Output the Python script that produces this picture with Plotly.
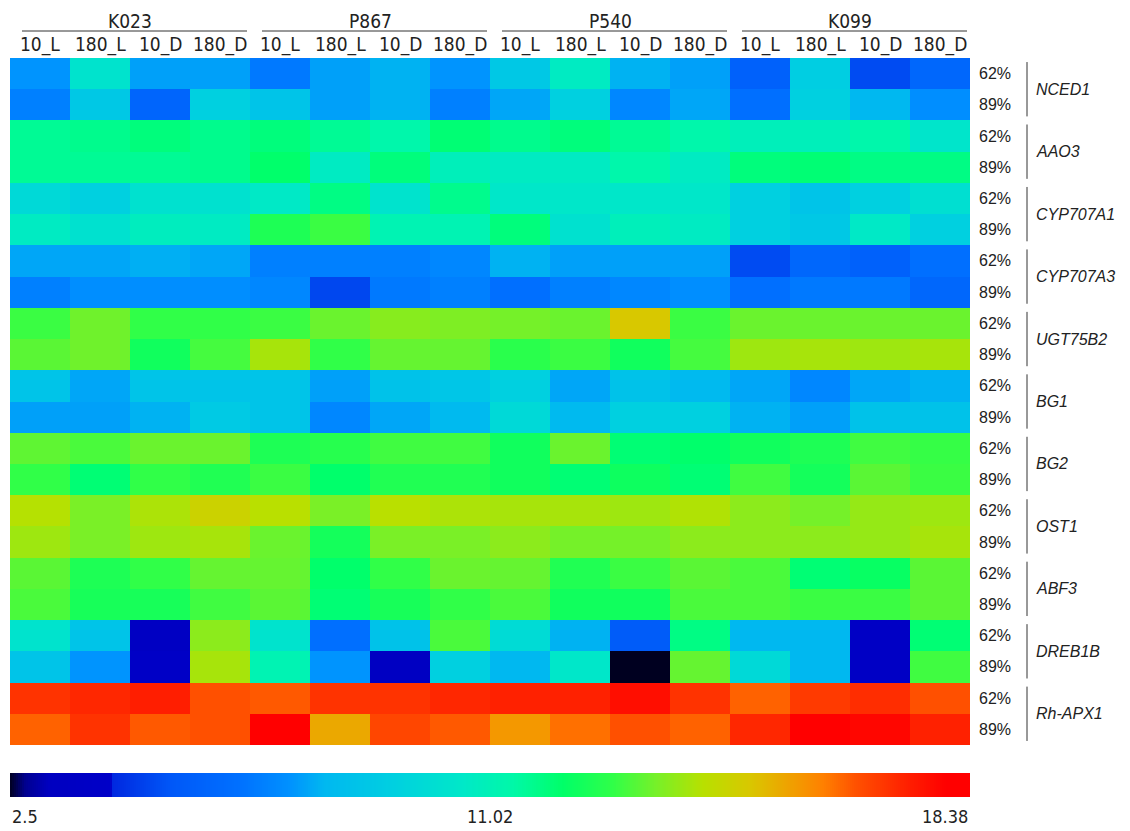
import numpy as np
import plotly.graph_objects as go

# ---- data -------------------------------------------------------------
groups = ["K023", "P867", "P540", "K099"]
conditions = ["10_L", "180_L", "10_D", "180_D"]
genes = ["NCED1", "AAO3", "CYP707A1", "CYP707A3", "UGT75B2", "BG1",
         "BG2", "OST1", "ABF3", "DREB1B", "Rh-APX1"]
humidity = ["62%", "89%"]

# expression level per column (group x condition), one list per gene / humidity
nced1_62 = [7.5, 10.3, 7.7, 7.7, 6.8, 7.7, 8.0, 7.5, 8.9, 10.7, 8.0, 7.7, 5.8, 9.2, 5.1, 6.1]
nced1_89 = [7.0, 8.9, 6.0, 9.3, 8.7, 7.7, 8.0, 7.0, 7.8, 9.3, 7.2, 7.8, 6.5, 9.3, 8.1, 7.4]
aao3_62 = [11.6, 11.7, 11.9, 11.7, 11.9, 11.6, 11.3, 12.0, 11.7, 11.9, 11.6, 11.3, 10.9, 10.9, 11.3, 10.4]
aao3_89 = [11.6, 11.6, 11.6, 11.7, 12.1, 10.7, 11.9, 10.9, 10.7, 10.7, 11.3, 10.7, 11.9, 12.0, 11.8, 11.8]
cyp707a1_62 = [9.8, 9.3, 10.2, 10.2, 10.6, 11.8, 10.3, 11.7, 10.5, 10.5, 10.5, 10.5, 9.3, 8.7, 9.3, 10.1]
cyp707a1_89 = [10.7, 10.2, 10.8, 10.7, 12.6, 13.0, 11.1, 11.1, 11.9, 10.2, 10.9, 10.7, 9.3, 8.9, 10.6, 9.3]
cyp707a3_62 = [7.8, 7.8, 7.95, 7.8, 7.0, 7.0, 7.0, 7.2, 8.0, 7.7, 7.7, 7.7, 5.1, 6.1, 5.8, 6.5]
cyp707a3_89 = [7.0, 7.4, 7.4, 7.4, 7.2, 5.0, 6.8, 7.0, 6.5, 7.0, 7.2, 7.4, 6.5, 6.8, 6.8, 6.1]
ugt75b2_62 = [13.0, 13.5, 12.9, 12.9, 13.0, 13.45, 13.75, 13.65, 13.55, 13.45, 15.0, 13.0, 13.45, 13.45, 13.45, 13.45]
ugt75b2_89 = [13.3, 13.5, 12.4, 13.1, 14.1, 12.9, 13.4, 13.4, 12.8, 13.0, 12.4, 13.1, 14.0, 14.1, 14.0, 14.1]
bg1_62 = [8.7, 7.8, 8.7, 8.7, 8.7, 7.7, 8.6, 8.8, 9.3, 7.8, 8.6, 8.2, 7.8, 7.2, 7.8, 8.0]
bg1_89 = [7.7, 7.7, 8.0, 9.0, 8.7, 7.2, 7.8, 8.2, 9.8, 8.2, 9.3, 9.3, 8.0, 7.7, 8.6, 8.6]
bg2_62 = [13.35, 13.15, 13.45, 13.45, 12.6, 12.75, 13.05, 13.05, 12.4, 13.45, 12.0, 12.1, 12.4, 12.6, 13.05, 12.95]
bg2_89 = [12.9, 12.0, 12.9, 12.65, 13.0, 12.1, 12.65, 12.65, 12.4, 12.0, 12.35, 12.0, 13.05, 12.45, 13.3, 13.0]
ost1_62 = [14.25, 13.6, 14.15, 14.7, 14.3, 13.6, 14.3, 14.15, 14.1, 14.1, 14.0, 14.2, 13.8, 13.55, 13.9, 14.0]
ost1_89 = [14.0, 13.6, 14.0, 14.1, 13.45, 12.45, 13.6, 13.6, 13.8, 13.55, 13.55, 13.8, 13.8, 13.8, 13.9, 14.1]
abf3_62 = [13.3, 12.6, 12.9, 13.4, 13.4, 12.1, 12.9, 13.45, 13.4, 12.65, 13.0, 13.3, 13.15, 12.0, 12.25, 13.3]
abf3_89 = [13.15, 12.5, 12.5, 13.05, 13.3, 12.0, 12.5, 12.9, 13.15, 12.4, 12.4, 13.15, 13.15, 13.0, 13.0, 13.3]
dreb1b_62 = [10.3, 8.7, 3.6, 13.8, 10.3, 6.5, 8.6, 13.15, 9.9, 8.0, 5.6, 11.8, 8.1, 8.1, 3.9, 12.0]
dreb1b_89 = [8.7, 7.5, 4.0, 14.1, 11.1, 7.5, 3.5, 9.3, 8.1, 10.5, 2.5, 13.4, 9.8, 8.1, 3.9, 13.05]
apx1_62 = [17.1, 17.3, 17.45, 16.65, 16.55, 17.1, 17.1, 17.3, 17.4, 17.4, 17.75, 17.1, 16.45, 17.0, 17.2, 16.65]
apx1_89 = [16.45, 17.1, 16.55, 16.65, 18.38, 15.5, 16.8, 16.55, 15.75, 16.3, 16.65, 16.45, 17.3, 18.2, 17.9, 17.4]

z = np.array([
    nced1_62, nced1_89, aao3_62, aao3_89, cyp707a1_62, cyp707a1_89,
    cyp707a3_62, cyp707a3_89, ugt75b2_62, ugt75b2_89, bg1_62, bg1_89,
    bg2_62, bg2_89, ost1_62, ost1_89, abf3_62, abf3_89,
    dreb1b_62, dreb1b_89, apx1_62, apx1_89,
])

scale_min, scale_mid, scale_max = 2.5, 11.02, 18.38

# ---- colour scale: stops given along the bar (0..1); mid value sits at 0.5 ----
bar_stops = [
    (0.0, "#000020"), (0.016, "#000090"), (0.04, "#0000c0"), (0.105, "#0000c8"),
    (0.107, "#0028e0"), (0.169, "#0058f8"), (0.238, "#0070ff"), (0.29, "#0090ff"),
    (0.328, "#00b8f0"), (0.40, "#00d0e0"), (0.472, "#00e8c8"), (0.524, "#00f8a8"),
    (0.576, "#00ff68"), (0.628, "#30ff48"), (0.674, "#78f028"), (0.722, "#b8e000"),
    (0.77, "#d8c800"), (0.813, "#f0a000"), (0.847, "#ff8000"), (0.882, "#ff5000"),
    (0.934, "#ff2000"), (0.975, "#ff0000"), (1.0, "#ff0000"),
]


def bar_to_value(f):
    f = np.asarray(f, dtype=float)
    low = scale_min + f * 2 * (scale_mid - scale_min)
    high = scale_mid + (f - 0.5) * 2 * (scale_max - scale_mid)
    return np.where(f <= 0.5, low, high)


colorscale = [[float((bar_to_value(f) - scale_min) / (scale_max - scale_min)), c]
              for f, c in bar_stops]

# ---- page geometry (pixels) ----
W, H = 1130, 831
left, right_edge = 10, 970
top, bottom_edge = 58, 797
heat_bottom = 745
bar_top = 773
plot_h = bottom_edge - top
plot_w = right_edge - left


def px_x(x):
    return (x - left) / plot_w


def px_y(y):
    return (bottom_edge - y) / plot_h


n_rows, n_cols = z.shape
fig = go.Figure()

fig.add_trace(go.Heatmap(
    z=z, x=list(range(n_cols)), y=list(range(n_rows)),
    coloraxis="coloraxis", xaxis="x", yaxis="y",
    hovertemplate="%{z}<extra></extra>",
))

# colour bar drawn as its own strip
n_bar = 480
edges = np.linspace(0, 1, n_bar + 1)
centers = (edges[:-1] + edges[1:]) / 2
fig.add_trace(go.Heatmap(
    z=[bar_to_value(centers)], x=edges, y=[0, 1],
    coloraxis="coloraxis", xaxis="x2", yaxis="y2", hoverinfo="skip",
))

text_color = "#222222"
narrow = "Liberation Sans Narrow, Arial Narrow, DejaVu Sans Condensed, sans-serif"
regular = "Liberation Sans, Arial, sans-serif"

fig.update_layout(
    width=W, height=H,
    margin=dict(l=left, r=W - right_edge, t=top, b=H - bottom_edge),
    paper_bgcolor="white", plot_bgcolor="white",
    coloraxis=dict(colorscale=colorscale, cmin=scale_min, cmax=scale_max, showscale=False),
    xaxis=dict(range=[-0.5, n_cols - 0.5], domain=[0, 1], showticklabels=False,
               showgrid=False, zeroline=False, ticks=""),
    yaxis=dict(range=[n_rows - 0.5, -0.5], domain=[px_y(heat_bottom), 1],
               showticklabels=False, showgrid=False, zeroline=False, ticks=""),
    xaxis2=dict(range=[0, 1], domain=[0, 1], anchor="y2", showticklabels=False,
                showgrid=False, zeroline=False, ticks=""),
    yaxis2=dict(range=[0, 1], domain=[0, px_y(bar_top)], anchor="x2",
                showticklabels=False, showgrid=False, zeroline=False, ticks=""),
    showlegend=False,
)

annotations = []
shapes = []

# column headers: group names with underline, then condition labels
for gi, g in enumerate(groups):
    c0 = gi * len(conditions) - 0.5
    c1 = c0 + len(conditions)
    annotations.append(dict(x=(c0 + c1) / 2, y=px_y(21), xref="x", yref="paper",
                            text=g, showarrow=False, xanchor="center", yanchor="middle",
                            font=dict(family=narrow, size=19, color=text_color)))
    shapes.append(dict(type="line", xref="x", yref="paper",
                       x0=c0 + 0.2, x1=c1 - 0.05, y0=px_y(31), y1=px_y(31),
                       line=dict(color="#333333", width=1)))
    for ci, cond in enumerate(conditions):
        annotations.append(dict(x=gi * len(conditions) + ci, y=px_y(45), xref="x", yref="paper",
                                text=cond, showarrow=False, xanchor="center", yanchor="middle",
                                font=dict(family=narrow, size=19, color=text_color)))

# row labels: humidity per row, gene name with bracket line per gene
for gi, gene in enumerate(genes):
    for hi, hum in enumerate(humidity):
        annotations.append(dict(x=px_x(977), y=2 * gi + hi, xref="paper", yref="y",
                                text=hum, showarrow=False, xanchor="left", yanchor="middle",
                                font=dict(family=regular, size=16, color=text_color)))
    shapes.append(dict(type="line", xref="paper", yref="y",
                       x0=px_x(1027), x1=px_x(1027),
                       y0=2 * gi - 0.5 + 0.13, y1=2 * gi + 1.5 - 0.13,
                       line=dict(color="#333333", width=1)))
    annotations.append(dict(x=px_x(1034), y=2 * gi + 0.5, xref="paper", yref="y",
                            text="<i>%s</i>" % gene, showarrow=False,
                            xanchor="left", yanchor="middle",
                            font=dict(family=regular, size=16, color=text_color)))

# colour bar tick labels
for val, xpos, anchor in [(scale_min, 0.0, "left"), (scale_mid, 0.5, "center"),
                          (scale_max, 1.0, "right")]:
    annotations.append(dict(x=xpos, y=px_y(816), xref="x2", yref="paper",
                            text=f"{val:g}", showarrow=False, xanchor=anchor, yanchor="middle",
                            font=dict(family=narrow, size=18, color=text_color)))

fig.update_layout(annotations=annotations, shapes=shapes)
fig.write_html("out.html")
